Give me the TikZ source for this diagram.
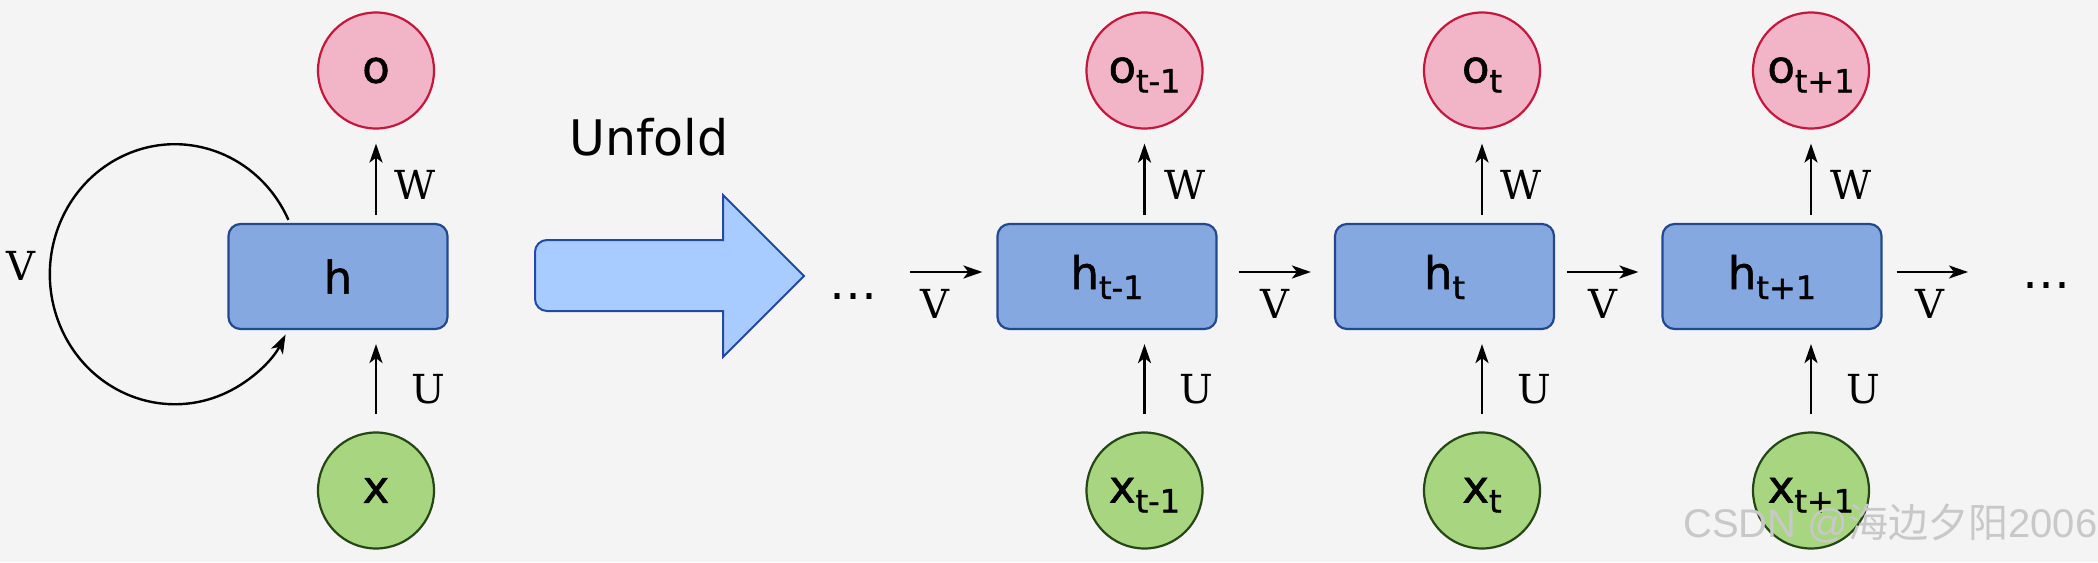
\documentclass[tikz,border=0pt]{standalone}
\usepackage{fontspec}
\setmainfont{DejaVu Sans}
\newfontfamily\lblfam[FakeBold=1.2]{DejaVu Sans}
\newfontfamily\seriffont{DejaVu Serif}
\newfontfamily\wmfont{Liberation Sans}
\newfontfamily\cjk{Noto Sans CJK SC}
\usetikzlibrary{arrows.meta,calc}
\definecolor{bg}{RGB}{244,244,244}
\definecolor{boxfill}{RGB}{134,168,224}
\definecolor{boxline}{RGB}{36,72,142}
\definecolor{ofill}{RGB}{241,181,199}
\definecolor{oline}{RGB}{198,22,62}
\definecolor{xfill}{RGB}{168,213,128}
\definecolor{xline}{RGB}{38,70,22}
\definecolor{bafill}{RGB}{168,204,255}
\definecolor{baline}{RGB}{34,74,164}
\definecolor{wmgray}{RGB}{200,200,200}
\newcommand\lblfont{\lblfam\fontsize{45}{45}\selectfont}
\newcommand\sbs[1]{\raisebox{-10pt}{\fontsize{32}{32}\selectfont #1}}
\newcommand\wtfont{\seriffont\fontsize{40}{40}\selectfont}
\begin{document}
\begin{tikzpicture}[x=1pt,y=-1pt,
  hnode/.style={draw=boxline, fill=boxfill, rounded corners=12pt, line width=2.2pt,
    minimum width=219pt, minimum height=105pt, inner sep=0pt, font=\lblfont},
  hsub/.style={hnode, text height=35pt, text depth=10pt},
  onode/.style={circle, draw=oline, fill=ofill, line width=2.2pt,
    minimum size=116pt, inner sep=0pt, font=\lblfont},
  osub/.style={onode, text height=24pt, text depth=0pt},
  xnode/.style={circle, draw=xline, fill=xfill, line width=2.2pt,
    minimum size=116pt, inner sep=0pt, font=\lblfont},
  xsub/.style={xnode, text height=24pt, text depth=0pt},
  arr/.style={-{Stealth[length=19pt,width=13pt,inset=5pt]}, line width=2.4pt, black},
  wlab/.style={font=\wtfont, anchor=base, inner sep=0pt},
  dots/.style={font=\fontsize{48}{48}\selectfont, anchor=base, inner sep=0pt}
]
\fill[bg] (0,0) rectangle (2098,562);
\useasboundingbox (0,0) rectangle (2098,562);

% folded network
\node[hnode] (h) at (338,276.5) {h};
\node[onode] (o) at (376,70.5) {o};
\node[xnode] (x) at (376,490.5) {x};
\draw[arr, shorten <=8pt, shorten >=14pt] (o.south |- h.north) -- (o.south);
\draw[arr, shorten <=17pt, shorten >=14pt] (x.north) -- (x.north |- h.south);
\draw[arr] ($(h.north west)+(61,-3)$) arc[start angle=-24.7, end angle=-332.4, x radius=125, y radius=130];
\node[wlab] (lw) at (415,199) {W};
\node[wlab] (lu) at (428,403) {U};
\node[wlab] (lv) at (21,280) {V};

% unfold arrow
\draw[fill=bafill, draw=baline, line width=2pt, line join=miter]
  (629,240) [rounded corners=12pt] -- (535,240) -- (535,311) -- (629,311)
  [sharp corners] -- (723,311) -- (723,357) -- (804,276) -- (723,195) -- (723,240) -- cycle;
\node[font=\fontsize{49}{49}\selectfont, anchor=base, inner sep=0pt] (unfold) at (649,155) {Unfold};

% unfolded network
\node[hsub] (h1) at (1107,276.5) {h\sbs{t-1}};
\node[osub] (o1) at (1144.5,70.5) {o\sbs{t-1}};
\node[xsub] (x1) at (1144.5,490.5) {x\sbs{t-1}};
\node[hsub] (h2) at (1444.5,276.5) {h\sbs{t}};
\node[osub] (o2) at (1482,70.5) {o\sbs{t}};
\node[xsub] (x2) at (1482,490.5) {x\sbs{t}};
\node[hsub] (h3) at (1772,276.5) {h\sbs{t+1}};
\node[osub] (o3) at (1811,70.5) {o\sbs{t+1}};
\node[xsub] (x3) at (1811,490.5) {x\sbs{t+1}};

\foreach \i in {1,2,3}{
  \draw[arr, shorten <=8pt, shorten >=14pt] (o\i.south |- h\i.north) -- (o\i.south);
  \draw[arr, shorten <=17pt, shorten >=14pt] (x\i.north) -- (x\i.north |- h\i.south);
}
\node[wlab] (w1) at (1185,199) {W};
\node[wlab] (w2) at (1521,199) {W};
\node[wlab] (w3) at (1851,199) {W};
\node[wlab] (u1) at (1196,403) {U};
\node[wlab] (u2) at (1534,403) {U};
\node[wlab] (u3) at (1863,403) {U};

\coordinate (vin) at (910,272);
\coordinate (vout) at (1968,272);
\draw[arr, shorten >=14pt] (vin) -- (vin -| h1.west);
\draw[arr, shorten <=21pt, shorten >=23pt] ([yshift=4.5pt]h1.east) -- ([yshift=4.5pt]h2.west);
\draw[arr, shorten <=12pt, shorten >=23pt] ([yshift=4.5pt]h2.east) -- ([yshift=4.5pt]h3.west);
\draw[arr, shorten <=14pt] (vout -| h3.east) -- (vout);
\node[wlab] (v1) at (935,318) {V};
\node[wlab] (v2) at (1274.5,318) {V};
\node[wlab] (v3) at (1603,318) {V};
\node[wlab] (v4) at (1930,318) {V};

\node[dots] (d1) at (853,299) {…};
\node[dots] (d2) at (2046,288) {…};

% watermark
\node[anchor=base west, inner sep=0pt, text=wmgray, font=\fontsize{40}{40}\selectfont] (wm) at (1683,537)
  {\wmfont CSDN @\cjk 海边夕阳\wmfont 2006};
\end{tikzpicture}
\end{document}
